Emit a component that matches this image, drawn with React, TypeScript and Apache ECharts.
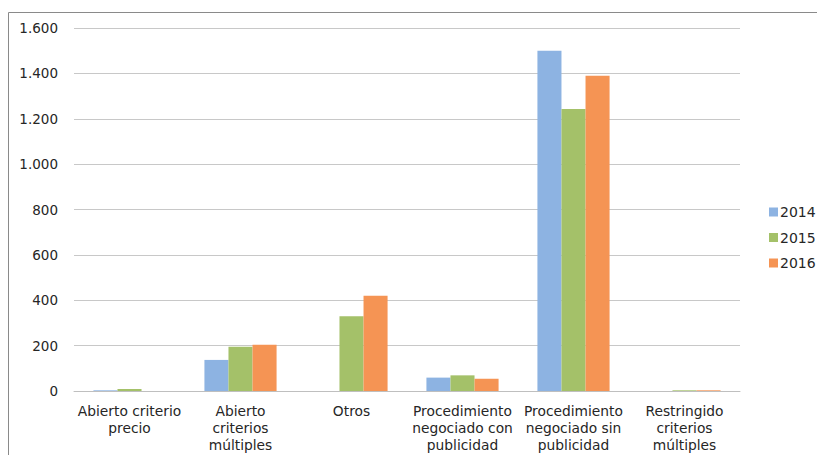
import React, { useEffect, useRef } from "react";
import * as echarts from "echarts";

const categories = [
  "Abierto criterio\nprecio",
  "Abierto\ncriterios\nmúltiples",
  "Otros",
  "Procedimiento\nnegociado con\npublicidad",
  "Procedimiento\nnegociado sin\npublicidad",
  "Restringido\ncriterios\nmúltiples",
];
const years = ["2014", "2015", "2016"];
const values2014 = [3, 137, 0, 59, 1500, 0];
const values2015 = [9, 195, 330, 69, 1243, 3];
const values2016 = [0, 204, 420, 54, 1390, 3];
const colors = ["#8db3e2", "#a4c169", "#f59454"];

const fmt = (v: number) => String(v).replace(/\B(?=(\d{3})+(?!\d))/g, ".");

export default function App() {
  const ref = useRef<HTMLDivElement>(null);
  useEffect(() => {
    document.body.style.margin = "0";
    const chart = echarts.init(ref.current!, null, { renderer: "svg" });
    const font = "'DejaVu Sans', sans-serif";
    const seriesData = [values2014, values2015, values2016];
    chart.setOption({
      animation: false,
      backgroundColor: "#ffffff",
      textStyle: { fontFamily: font },
      grid: { left: 74, right: 77, top: 28, bottom: 64, containLabel: false },
      legend: {
        orient: "vertical",
        left: 764,
        top: 200,
        itemWidth: 9,
        itemHeight: 9,
        itemGap: 11.5,
        icon: "rect",
        data: years,
        textStyle: { fontSize: 14, color: "#262626", fontFamily: font, padding: [0, 0, 0, -3] },
      },
      xAxis: {
        type: "category",
        data: categories,
        axisLine: { lineStyle: { color: "#bfbfbf", width: 1 } },
        axisTick: { show: false },
        axisLabel: {
          interval: 0,
          fontSize: 13.8,
          color: "#262626",
          lineHeight: 17,
          margin: 11,
          fontFamily: font,
        },
      },
      yAxis: {
        type: "value",
        min: 0,
        max: 1600,
        interval: 200,
        axisLine: { show: false },
        axisTick: { show: false },
        splitLine: { lineStyle: { color: "#c8c8c8", width: 1 } },
        axisLabel: {
          fontSize: 13.5,
          color: "#262626",
          margin: 16,
          fontFamily: font,
          formatter: (v: number) => fmt(v),
        },
      },
      series: years.map((y, i) => ({
        name: y,
        type: "bar",
        data: seriesData[i],
        barGap: "0%",
        barCategoryGap: "35%",
        itemStyle: { color: colors[i] },
      })),
      graphic: [
        {
          type: "line",
          shape: { x1: 8.5, y1: 12.5, x2: 817, y2: 12.5 },
          style: { stroke: "#8a8a8a", lineWidth: 1 },
        },
        {
          type: "line",
          shape: { x1: 8.5, y1: 12.5, x2: 8.5, y2: 455 },
          style: { stroke: "#8a8a8a", lineWidth: 1 },
        },
      ],
    });
    return () => chart.dispose();
  }, []);
  return <div ref={ref} style={{ width: 817, height: 455 }} />;
}
